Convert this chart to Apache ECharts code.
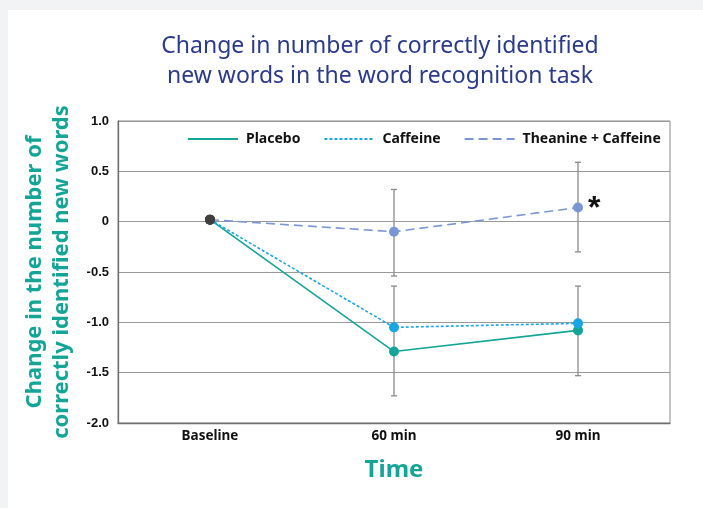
<!DOCTYPE html>
<html>
<head>
<meta charset="utf-8">
<script src="https://cdn.jsdelivr.net/npm/echarts@6/dist/echarts.min.js"></script>
<style>
  html, body { margin: 0; padding: 0; background: #f2f3f5; }
  .card { position: absolute; left: 8px; top: 10px; width: 720px; height: 520px; background: #fff; }
  .chartline { position: absolute; left: 0; top: 0; width: 703px; height: 508px; }
</style>
</head>
<body>
<div class="card"></div>
<div id="chart" class="chartline"></div>
<script>
// data
const categories = ["Baseline", "60 min", "90 min"];
const placebo = [0.02, -1.29, -1.08];
const caffeine = [0.02, -1.05, -1.01];
const theanineCaffeine = [0.02, -0.1, 0.14];
// error bars: [category index, low, high]
const barsTheanine = [[1, -0.54, 0.32], [2, -0.3, 0.59]];
const barsLower = [[1, -1.73, -0.64], [2, -1.53, -0.64]];
const starMark = [null, null, "*"];

const teal = "#14a597";
const cyan = "#1aa6e0";
const slate = "#7b97d3";
const baseDot = "#3f3f3f";
const font = "Noto Sans";

function withBaseDot(arr, labels) {
  return arr.map(function (v, i) {
    let item = { value: v };
    if (i === 0) item.itemStyle = { color: baseDot };
    if (labels && labels[i]) {
      item.label = {
        show: true, position: "right", distance: 5, formatter: labels[i],
        fontFamily: "Liberation Sans", fontSize: 32, fontWeight: "bold", color: "#111", offset: [0, 2]
      };
    }
    return item;
  });
}

function errorBar(params, api) {
  let x = api.value(0);
  let lo = api.coord([x, api.value(1)]);
  let hi = api.coord([x, api.value(2)]);
  let cap = 3;
  let style = { stroke: "#8a8a8a", lineWidth: 1.3 };
  return {
    type: "group",
    children: [
      { type: "line", shape: { x1: lo[0], y1: lo[1], x2: hi[0], y2: hi[1] }, style: style },
      { type: "line", shape: { x1: lo[0] - cap, y1: lo[1], x2: lo[0] + cap, y2: lo[1] }, style: style },
      { type: "line", shape: { x1: hi[0] - cap, y1: hi[1], x2: hi[0] + cap, y2: hi[1] }, style: style }
    ]
  };
}

let option = {
  backgroundColor: "transparent",
  animation: false,
  title: {
    text: "Change in number of correctly identified\nnew words in the word recognition task",
    left: 375,
    textAlign: "center",
    top: 26,
    textStyle: {
      fontFamily: font, fontWeight: "normal", fontSize: 23, lineHeight: 30, color: "#2b3a8a"
    }
  },
  legend: {
    top: 132,
    left: 187,
    padding: 0,
    itemWidth: 50,
    itemHeight: 16,
    itemGap: 23,
    itemStyle: { opacity: 0 },
    textStyle: {
      fontFamily: font, fontWeight: "bold", fontSize: 14, color: "#111", padding: [0, 0, 0, 3]
    },
    data: ["Placebo", "Caffeine", "Theanine + Caffeine"]
  },
  grid: {
    left: 118,
    right: 33,
    top: 121,
    bottom: 85,
    show: true,
    borderColor: "#8c8c8c",
    borderWidth: 1
  },
  xAxis: {
    type: "category",
    data: categories,
    boundaryGap: true,
    axisTick: { show: false },
    axisLine: { show: true, onZero: false, lineStyle: { color: "#6f6f6f", width: 1.3 } },
    axisLabel: {
      interval: 0, margin: 6, color: "#111",
      fontFamily: font, fontWeight: "bold", fontSize: 13.5
    },
    name: "Time",
    nameLocation: "middle",
    nameGap: 35,
    nameTextStyle: { fontFamily: font, fontWeight: "bold", fontSize: 24, color: teal }
  },
  yAxis: {
    type: "value",
    min: -2,
    max: 1,
    interval: 0.5,
    axisTick: { show: false },
    axisLine: { show: true, lineStyle: { color: "#6f6f6f", width: 1.3 } },
    splitLine: { show: true, lineStyle: { color: "#9a9a9a" } },
    axisLabel: {
      margin: 9, color: "#111",
      fontFamily: "Liberation Sans", fontWeight: "bold", fontSize: 13,
      formatter: function (v) { return v === 0 ? "0" : v.toFixed(1); }
    },
    name: "Change in the number of\ncorrectly identified new words",
    nameLocation: "middle",
    nameRotate: 90,
    nameGap: 40,
    nameTextStyle: {
      fontFamily: font, fontWeight: "bold", fontSize: 22, lineHeight: 27, color: teal
    }
  },
  series: [
    {
      type: "custom",
      name: "errTC",
      renderItem: errorBar,
      data: barsTheanine,
      z: 1,
      silent: true
    },
    {
      type: "custom",
      name: "errLow",
      renderItem: errorBar,
      data: barsLower,
      z: 1,
      silent: true
    },
    {
      name: "Placebo",
      type: "line",
      data: withBaseDot(placebo),
      symbol: "circle",
      symbolSize: 10,
      color: teal,
      lineStyle: { color: teal, width: 1.6, type: "solid" },
      z: 3
    },
    {
      name: "Caffeine",
      type: "line",
      data: withBaseDot(caffeine),
      symbol: "circle",
      symbolSize: 10,
      color: cyan,
      lineStyle: { color: cyan, width: 1.6, type: [3, 2] },
      z: 4
    },
    {
      name: "Theanine + Caffeine",
      type: "line",
      data: withBaseDot(theanineCaffeine, starMark),
      symbol: "circle",
      symbolSize: 10,
      color: slate,
      lineStyle: { color: slate, width: 1.6, type: [9, 5] },
      z: 5
    }
  ]
};

let dom = echarts.init(document.getElementById("chart"));
dom.setOption(option);
window.addEventListener("resize", function () { dom.resize(); });
</script>
</body>
</html>
